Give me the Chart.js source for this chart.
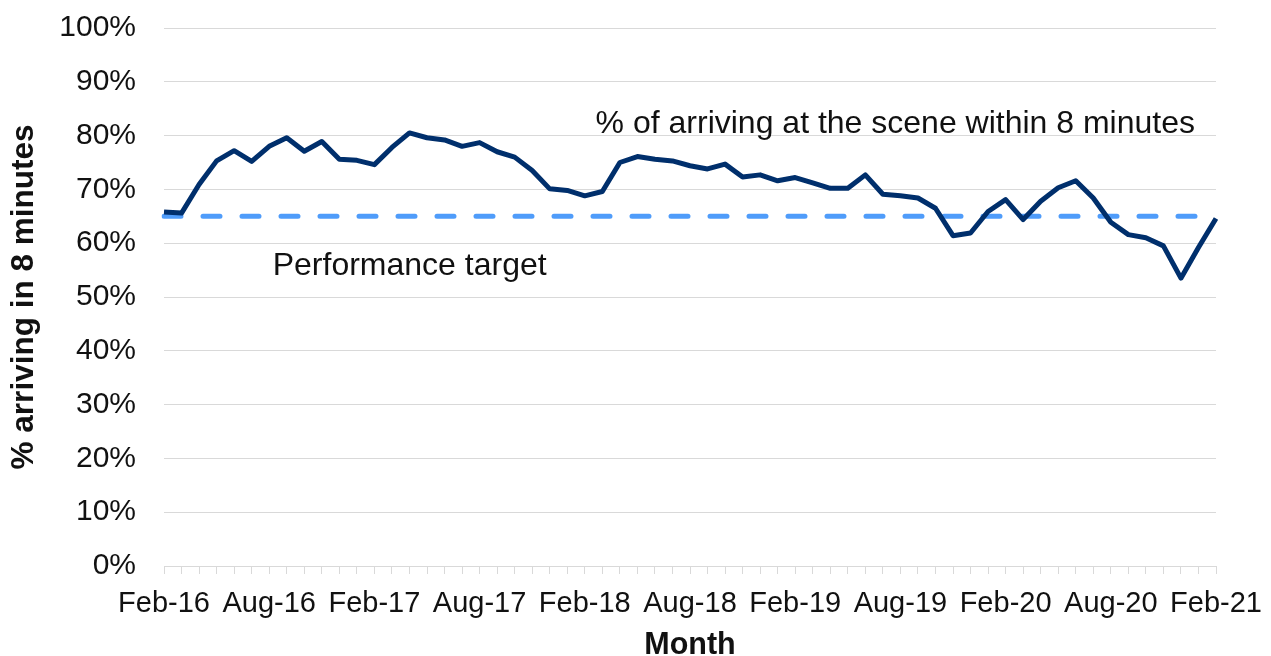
<!DOCTYPE html>
<html>
<head>
<meta charset="utf-8">
<script src="https://cdn.jsdelivr.net/npm/chart.js@4"></script>
<style>
  body { margin: 0; background: #fff; }
  #wrap { width: 1271px; height: 656px; position: relative; }
</style>
</head>
<body>
<div id="wrap"><canvas id="myChart"></canvas></div>
<script>
// monthly categories, Feb-16 .. Feb-21
const months = [
  "Feb-16", "Mar-16", "Apr-16", "May-16", "Jun-16", "Jul-16", "Aug-16", "Sep-16", "Oct-16", "Nov-16", "Dec-16", "Jan-17",
  "Feb-17", "Mar-17", "Apr-17", "May-17", "Jun-17", "Jul-17", "Aug-17", "Sep-17", "Oct-17", "Nov-17", "Dec-17", "Jan-18",
  "Feb-18", "Mar-18", "Apr-18", "May-18", "Jun-18", "Jul-18", "Aug-18", "Sep-18", "Oct-18", "Nov-18", "Dec-18", "Jan-19",
  "Feb-19", "Mar-19", "Apr-19", "May-19", "Jun-19", "Jul-19", "Aug-19", "Sep-19", "Oct-19", "Nov-19", "Dec-19", "Jan-20",
  "Feb-20", "Mar-20", "Apr-20", "May-20", "Jun-20", "Jul-20", "Aug-20", "Sep-20", "Oct-20", "Nov-20", "Dec-20", "Jan-21",
  "Feb-21"
];

// % arriving at the scene within 8 minutes
const arrivingPct = [
  65.8, 65.6, 70.9, 75.3, 77.2, 75.2, 78.0, 79.6, 77.1, 78.9, 75.6, 75.4,
  74.6, 77.8, 80.5, 79.6, 79.2, 78.0, 78.7, 77.0, 76.0, 73.5, 70.1, 69.8,
  68.8, 69.6, 75.0, 76.1, 75.6, 75.3, 74.4, 73.8, 74.7, 72.3, 72.7, 71.6,
  72.2, 71.2, 70.2, 70.2, 72.7, 69.1, 68.8, 68.4, 66.5, 61.4, 61.9, 65.9,
  68.1, 64.4, 67.8, 70.3, 71.6, 68.4, 63.9, 61.6, 61.0, 59.5, 53.5, 59.2,
  64.6
];

// performance target (%)
const targetPct = 65;

// y axis ticks
const yTicks = [0, 10, 20, 30, 40, 50, 60, 70, 80, 90, 100];

const FONT = "'Liberation Sans', Arial, sans-serif";
const gridGrey = "#d9d9d9";

// text labels placed inside the plot
const notes = {
  id: "notes",
  afterDatasetsDraw(chart) {
    const { ctx, chartArea, scales } = chart;
    ctx.save();
    ctx.fillStyle = "#111";
    ctx.font = "32px " + FONT;
    ctx.textBaseline = "middle";
    ctx.textAlign = "right";
    ctx.fillText("% of arriving at the scene within 8 minutes", chartArea.right - 21, scales.y.getPixelForValue(82.1));
    ctx.textAlign = "left";
    ctx.fillText("Performance target", scales.x.getPixelForValue(6.2), scales.y.getPixelForValue(55.8));
    ctx.restore();
  },
};

const data = {
  labels: months,
  datasets: [
    {
      label: "% of arriving at the scene within 8 minutes",
      data: arrivingPct,
      borderColor: "#002f6c",
      borderWidth: 5,
      pointRadius: 0,
      tension: 0,
      borderJoinStyle: "round",
      order: 1,
    },
    {
      label: "Performance target",
      data: [
        { x: months[0], y: targetPct },
        { x: months[months.length - 1], y: targetPct },
      ],
      borderColor: "#4f9cfa",
      borderWidth: 5,
      borderDash: [17, 22],
      borderCapStyle: "round",
      pointRadius: 0,
      order: 2,
    },
  ],
};

const config = {
  type: "line",
  data: data,
  plugins: [notes],
  options: {
    responsive: true,
    maintainAspectRatio: false,
    animation: false,
    layout: { padding: { left: 0, right: 55, top: 28, bottom: 0 } },
    plugins: {
      legend: { display: false },
      tooltip: { enabled: false },
    },
    scales: {
      x: {
        type: "category",
        offset: false,
        afterFit: (scale) => {
          scale.height = 90;
          scale.paddingLeft = 0;
          scale.paddingRight = 0;
        },
        grid: {
          drawOnChartArea: false,
          drawTicks: true,
          tickLength: 8,
          color: gridGrey,
        },
        border: { color: gridGrey, width: 1 },
        ticks: {
          autoSkip: false,
          maxRotation: 0,
          padding: 13,
          color: "#111",
          font: { family: FONT, size: 29 },
          callback: (v, i) => (i % 6 === 0 ? months[i] : ""),
        },
        title: {
          display: true,
          text: "Month",
          color: "#111",
          font: { family: FONT, size: 30.5, weight: "bold", lineHeight: 1 },
          padding: { top: 0, bottom: -5 },
        },
      },
      y: {
        min: yTicks[0],
        max: yTicks[yTicks.length - 1],
        afterFit: (scale) => {
          scale.width = 164;
          scale.paddingTop = 0;
          scale.paddingBottom = 0;
        },
        afterBuildTicks: (scale) => { scale.ticks = yTicks.map((v) => ({ value: v })); },
        grid: { color: gridGrey, drawTicks: false },
        border: { display: false },
        ticks: {
          padding: 28,
          color: "#111",
          font: { family: FONT, size: 30 },
          callback: (v) => v + "%",
        },
        title: {
          display: true,
          text: "% arriving in 8 minutes",
          color: "#111",
          font: { family: FONT, size: 31.5, weight: "bold", lineHeight: 1 },
          padding: { top: 9, bottom: 0 },
        },
      },
    },
  },
};

const ctx = document.getElementById("myChart");
const myChart = new Chart(ctx, config);
</script>
</body>
</html>
